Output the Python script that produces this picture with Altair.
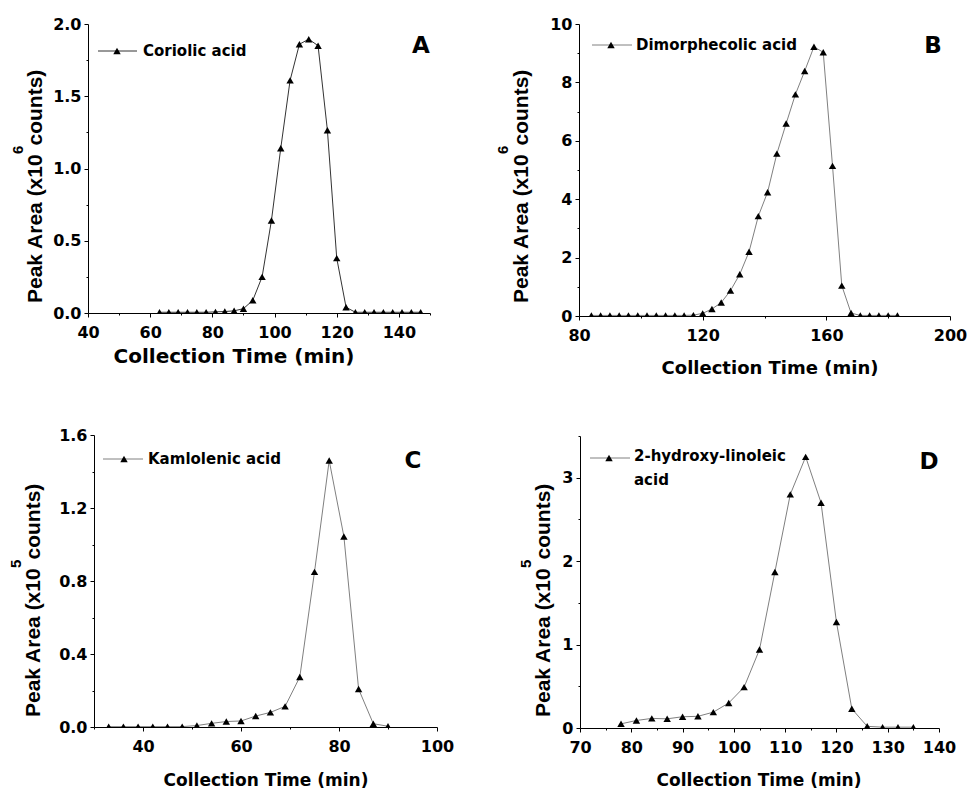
import altair as alt
import pandas as pd

W, H = 968, 793
TICK_FONT = "DejaVu Sans"
YTITLE_FONT = "Liberation Sans"

# ---- collection time (min) and peak area for each fatty acid ----
coriolic_time = [63, 66, 69, 72, 75, 78, 81, 84, 87, 90, 93, 96, 99, 102, 105,
                 108, 111, 114, 117, 120, 123, 126, 129, 132, 135, 138, 141, 144, 147]
coriolic_area = [0.005, 0.005, 0.005, 0.005, 0.005, 0.005, 0.008, 0.01, 0.015, 0.03,
                 0.088, 0.25, 0.64, 1.14, 1.61, 1.86, 1.895, 1.85, 1.265, 0.38, 0.04,
                 0.005, 0.005, 0.005, 0.005, 0.005, 0.005, 0.005, 0.005]   # x10^6 counts

dimorphecolic_time = [84, 87, 90, 93, 96, 99, 102, 105, 108, 111, 114, 117, 120, 123,
                      126, 129, 132, 135, 138, 141, 144, 147, 150, 153, 156, 159, 162,
                      165, 168, 171, 174, 177, 180, 183]
dimorphecolic_area = [0.02, 0.02, 0.02, 0.02, 0.02, 0.02, 0.02, 0.02, 0.02, 0.02, 0.02,
                      0.03, 0.09, 0.24, 0.46, 0.87, 1.43, 2.2, 3.42, 4.24, 5.56, 6.59,
                      7.59, 8.39, 9.22, 9.03, 5.14, 1.04, 0.1, 0.02, 0.02, 0.02, 0.02,
                      0.02]   # x10^6 counts

kamlolenic_time = [33, 36, 39, 42, 45, 48, 51, 54, 57, 60, 63, 66, 69, 72, 75, 78, 81,
                   84, 87, 90]
kamlolenic_area = [0.002, 0.002, 0.002, 0.002, 0.002, 0.002, 0.008, 0.02, 0.03, 0.033,
                   0.06, 0.08, 0.113, 0.274, 0.85, 1.46, 1.044, 0.208, 0.018,
                   0.004]   # x10^5 counts

hydroxylinoleic_time = [78, 81, 84, 87, 90, 93, 96, 99, 102, 105, 108, 111, 114, 117,
                        120, 123, 126, 129, 132, 135]
hydroxylinoleic_area = [0.05, 0.09, 0.115, 0.11, 0.135, 0.14, 0.19, 0.30, 0.49, 0.94,
                        1.87, 2.80, 3.25, 2.70, 1.27, 0.23, 0.02, 0.01, 0.01,
                        0.01]   # x10^5 counts

series_names = ["Coriolic acid", "Dimorphecolic acid", "Kamlolenic acid",
                "2-hydroxy-linoleic\nacid"]
panel_letters = ["A", "B", "C", "D"]
x_title = "Collection Time (min)"
y_title_head = "Peak Area (x10"
y_title_tail = "counts)"
y_exponents = ["6", "6", "5", "5"]

x_domains = [[40, 150], [80, 200], [30, 100], [70, 140]]
y_domains = [[0, 2.0], [0, 10], [0, 1.6], [0, 3.5]]
x_major = [[40, 60, 80, 100, 120, 140], [80, 120, 160, 200], [40, 60, 80, 100],
           [70, 80, 90, 100, 110, 120, 130, 140]]
x_minor = [[50, 70, 90, 110, 130, 150], [100, 140, 180], [30, 50, 70, 90],
           [75, 85, 95, 105, 115, 125, 135]]
y_major = [[0, 0.5, 1.0, 1.5, 2.0], [0, 2, 4, 6, 8, 10], [0, 0.4, 0.8, 1.2, 1.6],
           [0, 1, 2, 3]]
y_minor = [[0.25, 0.75, 1.25, 1.75], [1, 3, 5, 7, 9], [0.2, 0.6, 1.0, 1.4],
           [0.5, 1.5, 2.5, 3.5]]
y_formats = [".1f", "d", ".1f", "d"]

series = [
    (coriolic_time, coriolic_area),
    (dimorphecolic_time, dimorphecolic_area),
    (kamlolenic_time, kamlolenic_area),
    (hydroxylinoleic_time, hydroxylinoleic_area),
]

# ---- pixel geometry of the four panels (plot rectangles and decorations) ----
geom = [
    dict(xr=[88, 430], yr=[313, 24], line="#333333",
         leg=(98, 137, 117, 143, 51), letter=(421, 46),
         xt=(234, 357, 20), yt=(42, 303, 23)),
    dict(xr=[579, 950], yr=[316, 24], line="#808080",
         leg=(592, 632, 611, 636, 45), letter=(933, 46),
         xt=(770, 369, 18), yt=(528, 303, 508)),
    dict(xr=[94, 437], yr=[727, 435], line="#808080",
         leg=(103, 143, 124, 148, 459), letter=(413, 461),
         xt=(266, 781, 17), yt=(40, 717, 21)),
    dict(xr=[580, 939], yr=[728, 436], line="#808080",
         leg=(590, 630, 609, 634, 458), letter=(929, 462),
         xt=(759, 781, 17), yt=(550, 717, 531)),
]


def label_df(txt):
    return pd.DataFrame({"label": [txt]})


def text_mark(txt, x, y, size, font=TICK_FONT, align="left", baseline="middle",
              angle=0, **kw):
    return alt.Chart(label_df(txt)).mark_text(
        font=font, fontSize=size, fontWeight="bold", align=align,
        baseline=baseline, angle=angle, color="black", **kw
    ).encode(x=alt.value(x), y=alt.value(y), text="label:N")


def axis_style(**kw):
    return dict(grid=False, zindex=1, domainColor="black", domainWidth=1,
                tickColor="black", tickWidth=1, labelFont=TICK_FONT,
                labelFontSize=16, labelFontWeight="bold", labelColor="black",
                labelFlush=False, labelOverlap=False, title=None, **kw)


layers = []
for i, (t, v) in enumerate(series):
    g = geom[i]
    df = pd.DataFrame({"t": t, "v": v})
    xs = alt.Scale(domain=x_domains[i], range=g["xr"], nice=False, zero=False)
    ys = alt.Scale(domain=y_domains[i], range=g["yr"], nice=False, zero=False)
    x_off = g["yr"][0] - H
    y_off = -g["xr"][0]

    xaxis = alt.Axis(orient="bottom", offset=x_off, values=x_major[i], tickSize=4,
                     labelPadding=7, format="d", **axis_style())
    yaxis = alt.Axis(orient="left", offset=y_off, values=y_major[i], tickSize=4,
                     labelPadding=3, format=y_formats[i], **axis_style())
    xaxis_minor = alt.Axis(orient="bottom", offset=x_off, values=x_minor[i],
                           tickSize=2, labels=False, domain=False, grid=False,
                           zindex=1, tickColor="black", title=None)
    yaxis_minor = alt.Axis(orient="left", offset=y_off, values=y_minor[i],
                           tickSize=2, labels=False, domain=False, grid=False,
                           zindex=1, tickColor="black", title=None)

    enc = dict(x=alt.X("t:Q", scale=xs, axis=xaxis),
               y=alt.Y("v:Q", scale=ys, axis=yaxis))
    base = alt.Chart(df)
    trace = base.mark_line(color=g["line"], strokeWidth=1).encode(**enc)
    marks = base.mark_point(shape="triangle-up", filled=True, size=55,
                            color="black", opacity=1).encode(**enc)
    layers.append(alt.layer(trace, marks))

    # minor ticks on both axes
    layers.append(base.mark_point(opacity=0).encode(
        x=alt.X("t:Q", scale=xs, axis=xaxis_minor),
        y=alt.Y("v:Q", scale=ys, axis=yaxis_minor)))

    # markers sitting on the x axis are clipped at the plot edge
    layers.append(alt.Chart(label_df("")).mark_rect(color="white").encode(
        x=alt.value(g["xr"][0] - 1), x2=alt.value(g["xr"][1] + 1),
        y=alt.value(g["yr"][0] + 0.5), y2=alt.value(g["yr"][0] + 7)))

    # legend entry
    lx1, lx2, mx, tx, ly = g["leg"]
    layers.append(alt.Chart(label_df("")).mark_rule(color=g["line"], strokeWidth=1)
                  .encode(x=alt.value(lx1), x2=alt.value(lx2), y=alt.value(ly)))
    layers.append(alt.Chart(label_df("")).mark_point(
        shape="triangle-up", filled=True, size=55, color="black", opacity=1
    ).encode(x=alt.value(mx), y=alt.value(ly)))
    if "\n" in series_names[i]:
        layers.append(text_mark(series_names[i], tx, ly, 15, baseline="top",
                                lineBreak="\n", lineHeight=24, dy=-9))
    else:
        layers.append(text_mark(series_names[i], tx, ly, 15))

    # panel letter
    lx, lyy = g["letter"]
    layers.append(text_mark(panel_letters[i], lx, lyy, 23, align="center"))

    # x axis title
    cx, cy, fs = g["xt"]
    layers.append(text_mark(x_title, cx, cy, fs, align="center"))

    # y axis title with superscript exponent
    bx, by, sx = g["yt"]
    layers.append(text_mark(y_title_head, bx, by, 21, font=YTITLE_FONT,
                            baseline="alphabetic", angle=270))
    layers.append(text_mark(y_exponents[i], sx, by - 149, 15, font=YTITLE_FONT,
                            baseline="alphabetic", angle=270))
    layers.append(text_mark(y_title_tail, bx, by - 157.5, 21, font=YTITLE_FONT,
                            baseline="alphabetic", angle=270))

chart = alt.layer(*layers).resolve_scale(
    x="independent", y="independent"
).properties(
    width=W, height=H, padding=0, background="white",
    autosize=alt.AutoSizeParams(type="none"),
).configure_view(strokeWidth=0)

chart.save("out.html", embed_options={"renderer": "svg", "actions": False})
